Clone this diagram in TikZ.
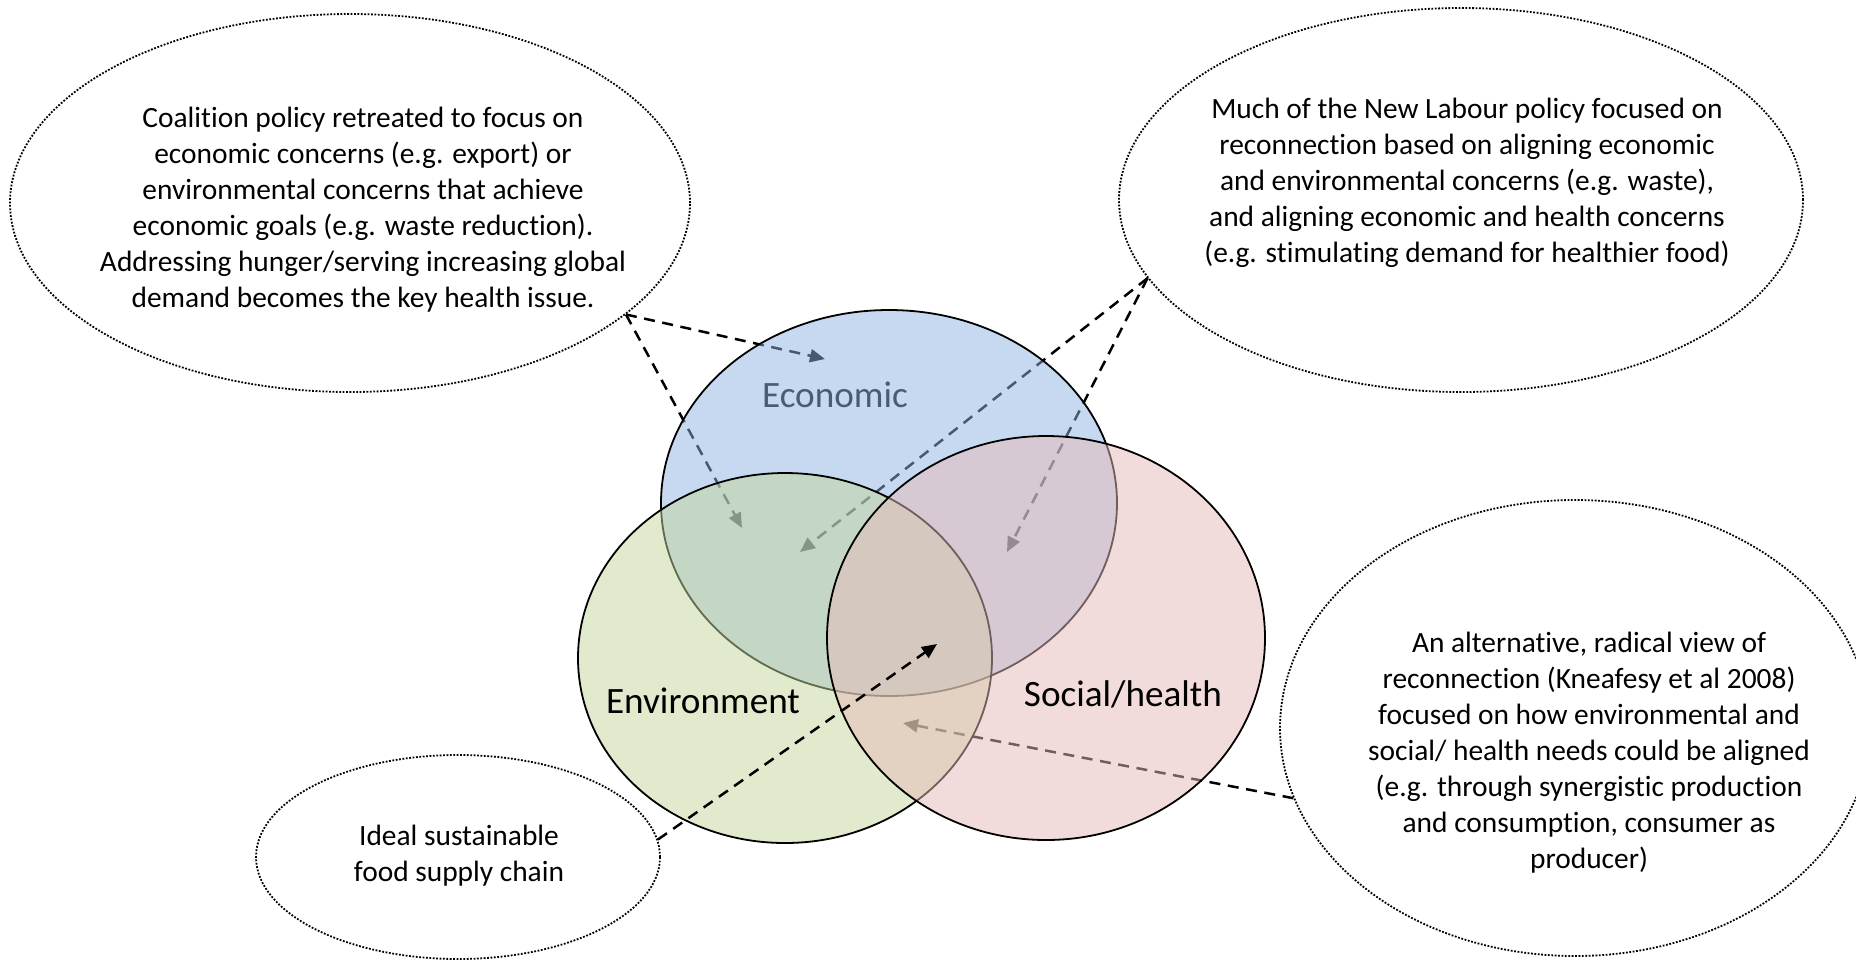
\documentclass[tikz,border=0pt]{standalone}
\usepackage{fontspec}
\setmainfont{Carlito}[Ligatures=NoCommon]
\usetikzlibrary{shapes.geometric,arrows.meta}
\definecolor{ecoF}{HTML}{8DB3E2}
\definecolor{envF}{HTML}{C3D69B}
\definecolor{socF}{HTML}{E6B9B8}
\definecolor{ecoT}{HTML}{4A5A78}
\begin{document}
\begin{tikzpicture}[x=0.5pt,y=-0.5pt,
  bubble/.style={ellipse, draw=black, line width=0.9pt, dash pattern=on 0.9pt off 0.8pt, inner sep=0pt},
  venn/.style={ellipse, draw=black, line width=0.9pt, fill opacity=0.5, inner sep=0pt},
  body/.style={align=center, font=\fontsize{14.7}{18}\selectfont, inner sep=0pt},
  lab/.style={font=\fontsize{18.6}{22}\selectfont, inner sep=0pt},
  link/.style={line width=1.25pt, dash pattern=on 5.5pt off 3.8pt, -{Triangle[length=7.5pt,width=6.5pt]}},
]
\path[use as bounding box] (0,0) rectangle (1856,960);

% callout bubbles
\node[bubble, minimum width=340pt, minimum height=189pt] (tl) at (350,203) {};
\node[bubble, minimum width=342pt, minimum height=192pt] (tr) at (1461,200) {};
\node[bubble, minimum width=295pt, minimum height=228pt] (br) at (1575,728) {};
\node[bubble, minimum width=202pt, minimum height=102pt] (bl) at (458,857) {};

% arrow targets
\coordinate (t1) at (825,359);
\coordinate (t2) at (742,528);
\coordinate (t3) at (800,552);
\coordinate (t4) at (1007,552);
\coordinate (t6) at (903,723);
\coordinate (t5) at (937,644);

% arrows behind the circles
\draw[link] (tl.-22.5) -- (t1);
\draw[link] (tl.-22.5) -- (t2);
\draw[link] (tr.194) -- (t3);
\draw[link] (tr.194) -- (t4);
\draw[link] (br.194.9) -- (t6);

% Venn circles
\node[venn, fill=ecoF, minimum width=228pt, minimum height=193pt] (eco) at (889,503) {};
\node[venn, fill=envF, minimum width=207pt, minimum height=185pt] (env) at (785,658) {};
\node[venn, fill=socF, minimum width=219pt, minimum height=202pt] (soc) at (1046,638) {};

% labels
\node[lab, text=ecoT] (ecoL) at (835,395) {Economic};
\node[lab] (envL) at (703,701) {Environment};
\node[lab] (socL) at (1123,694) {Social/health};

% callout texts
\node[body] (tlT) at (363,210) {Coalition policy retreated to focus on\\economic concerns (e.g. export) or\\environmental concerns that achieve\\economic goals (e.g. waste reduction).\\Addressing hunger/serving increasing global\\demand becomes the key health issue.};
\node[body] (trT) at (1467,183) {Much of the New Labour policy focused on\\reconnection based on aligning economic\\and environmental concerns (e.g. waste),\\and aligning economic and health concerns\\(e.g. stimulating demand for healthier food)};
\node[body] (brT) at (1589,753) {An alternative, radical view of\\reconnection (Kneafesy et al 2008)\\focused on how environmental and\\social/ health needs could be aligned\\(e.g. through synergistic production\\and consumption, consumer as\\producer)};
\node[body] (blT) at (459,856) {Ideal sustainable\\food supply chain};

% arrow on top
\draw[link] (bl.5) -- (t5);
\end{tikzpicture}
\end{document}
